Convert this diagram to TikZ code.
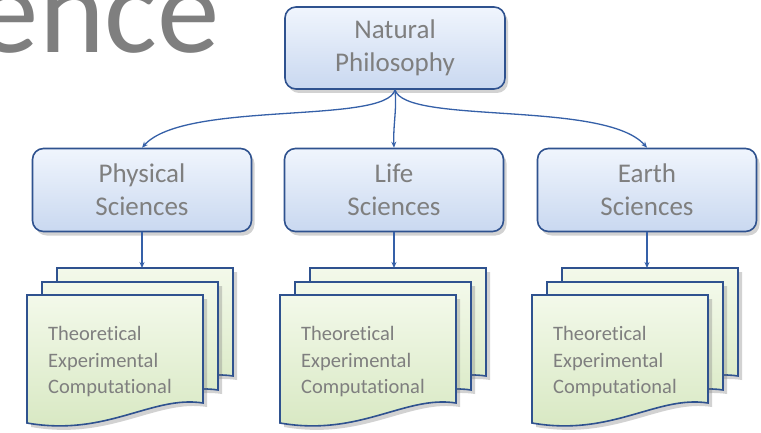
\documentclass[tikz,border=0pt]{standalone}
\usepackage{fontspec}
\setmainfont[Ligatures=NoCommon]{Carlito}
\usetikzlibrary{shadows,arrows.meta}
\definecolor{txtgray}{HTML}{7F7F7F}
\definecolor{edgeblue}{HTML}{2F528F}
\definecolor{linkblue}{HTML}{3560A8}
\definecolor{boxtop}{HTML}{F0F5FD}
\definecolor{boxbot}{HTML}{C9D8F0}
\definecolor{doctop}{HTML}{F3F9EA}
\definecolor{docbot}{HTML}{D6E7C0}
\tikzset{
  catbox/.style={draw=edgeblue, line width=1.6pt, rounded corners=11pt,
    top color=boxtop, bottom color=boxbot, text=txtgray, align=center,
    minimum width=219pt, minimum height=83pt, inner sep=0pt,
    font=\fontsize{27}{33}\selectfont,
    drop shadow={shadow xshift=3pt, shadow yshift=-4pt, opacity=0.35}},
  sheet/.style={draw=edgeblue, line width=1.6pt, top color=doctop, bottom color=docbot,
    drop shadow={shadow xshift=4pt, shadow yshift=-4pt, opacity=0.35}},
  link/.style={draw=linkblue, line width=1.3pt, -{Stealth[length=6pt,width=5pt]}},
  doctext/.style={text=txtgray, align=left, font=\fontsize{20.5}{26.5}\selectfont,
    anchor=west, inner sep=0pt},
  titletext/.style={text=txtgray, font=\fontsize{125}{130}\selectfont, inner sep=0pt}
}
\newcommand\onesheet[2]{%
  \begin{scope}[shift={(#1,#2)}]
    \path[sheet] (0,0) -- (176,0) -- (176,108) .. controls (125,100) and (80,142) .. (0,128) -- cycle;
  \end{scope}}
\newcommand\docstack[1]{%
  \onesheet{#1+30}{268}\onesheet{#1+15}{282}\onesheet{#1}{295}}
\begin{document}
\begin{tikzpicture}[x=1pt,y=-1pt]
  \useasboundingbox (0,0) rectangle (761,433);
  \clip (0,0) rectangle (761,433);
  \fill[white] (0,0) rectangle (761,433);
  \node[titletext, anchor=base east] (title) at (220,53) {ence};

  \node[catbox, minimum width=220pt, minimum height=82pt] (top) at (395,48) {Natural\\Philosophy};
  \node[catbox] (phys) at (142,190) {Physical\\Sciences};
  \node[catbox] (life) at (394,190) {Life\\Sciences};
  \node[catbox] (earth) at (647,190) {Earth\\Sciences};

  \draw[link] (top.south) .. controls (386,125) and (185,100) .. (phys.north);
  \draw[link] (top.south) .. controls (397,110) and (393,125) .. (life.north);
  \draw[link] (top.south) .. controls (405,125) and (605,100) .. (earth.north);

  \docstack{27}
  \docstack{280}
  \docstack{532}

  \coordinate (d1) at (142,268);
  \coordinate (d2) at (394,268);
  \coordinate (d3) at (647,268);
  \draw[link] (phys.south) -- (d1);
  \draw[link] (life.south) -- (d2);
  \draw[link] (earth.south) -- (d3);

  \node[doctext] (t1) at (48,362) {Theoretical\\Experimental\\Computational};
  \node[doctext] (t2) at (301,362) {Theoretical\\Experimental\\Computational};
  \node[doctext] (t3) at (553,362) {Theoretical\\Experimental\\Computational};
\end{tikzpicture}
\end{document}
